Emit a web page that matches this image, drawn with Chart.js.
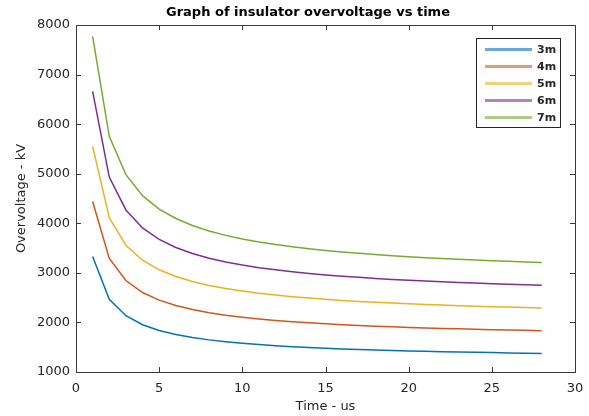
<!DOCTYPE html>
<html>
<head>
<meta charset="utf-8">
<script src="https://cdn.jsdelivr.net/npm/chart.js"></script>
<style>
  html, body { margin: 0; padding: 0; background: #fff; }
  #wrap { width: 589px; height: 416px; }
</style>
</head>
<body>
<div id="wrap"><canvas id="myChart" width="589" height="416"></canvas></div>
<script>
const times = [1, 2, 3, 4, 5, 6, 7, 8, 9, 10, 11, 12, 13, 14, 15, 16, 17, 18, 19, 20, 21, 22, 23, 24, 25, 26, 27, 28];

const v3m = [3330, 2467, 2135, 1953, 1837, 1756, 1695, 1648, 1610, 1579, 1553, 1530, 1511, 1494, 1479, 1466, 1454, 1444, 1434, 1425, 1417, 1410, 1403, 1397, 1391, 1385, 1380, 1375];
const v4m = [4440, 3289, 2846, 2604, 2449, 2341, 2260, 2197, 2146, 2105, 2070, 2040, 2015, 1992, 1972, 1955, 1939, 1925, 1912, 1900, 1890, 1880, 1870, 1862, 1854, 1847, 1840, 1833];
const v5m = [5550, 4111, 3558, 3255, 3062, 2926, 2825, 2747, 2683, 2632, 2588, 2551, 2519, 2491, 2466, 2444, 2424, 2406, 2390, 2376, 2362, 2350, 2338, 2328, 2318, 2309, 2300, 2292];
const v6m = [6660, 4933, 4269, 3906, 3674, 3511, 3390, 3296, 3220, 3158, 3105, 3061, 3022, 2989, 2959, 2933, 2909, 2887, 2868, 2851, 2834, 2819, 2806, 2793, 2781, 2770, 2759, 2750];
const v7m = [7770, 5755, 4981, 4557, 4286, 4096, 3955, 3845, 3756, 3684, 3623, 3571, 3526, 3487, 3452, 3421, 3394, 3368, 3346, 3326, 3307, 3289, 3273, 3259, 3245, 3232, 3219, 3208];

const seriesNames = ["3m", "4m", "5m", "6m", "7m"];
const seriesValues = [v3m, v4m, v5m, v6m, v7m];
const colors = ["#0072BD", "#D95319", "#EDB120", "#7E2F8E", "#77AC30"];

const TITLE = "Graph of insulator overvoltage vs time";
const FONT = "'DejaVu Sans', sans-serif";
const AXIS_COLOR = "#3a3a3a";

// box around the axes + ticks pointing inwards, like matlab
const boxPlugin = {
  id: "box",
  afterDatasetsDraw(chart) {
    const { ctx, chartArea: a, scales } = chart;
    ctx.save();
    ctx.strokeStyle = AXIS_COLOR;
    ctx.lineWidth = 1;
    ctx.strokeRect(a.left + 0.5, a.top + 0.5, a.right - a.left, a.bottom - a.top);
    const len = 5;
    ctx.beginPath();
    scales.x.ticks.forEach(t => {
      const px = Math.round(scales.x.getPixelForValue(t.value)) + 0.5;
      ctx.moveTo(px, a.bottom); ctx.lineTo(px, a.bottom - len);
      ctx.moveTo(px, a.top); ctx.lineTo(px, a.top + len);
    });
    scales.y.ticks.forEach(t => {
      const py = Math.round(scales.y.getPixelForValue(t.value)) + 0.5;
      ctx.moveTo(a.left, py); ctx.lineTo(a.left + len, py);
      ctx.moveTo(a.right, py); ctx.lineTo(a.right - len, py);
    });
    ctx.stroke();

    // title (sits a bit left of the plot centre in the original)
    ctx.fillStyle = "#000";
    ctx.font = "bold 13px " + FONT;
    ctx.textAlign = "center";
    ctx.textBaseline = "middle";
    ctx.fillText(TITLE, 308, 13);
    ctx.restore();
  }
};

// legend box in the top right corner of the plot
const legendBox = {
  id: "legendBox",
  afterDraw(chart) {
    const { ctx, chartArea: a } = chart;
    const w = 84, h = 89;
    const x = a.right - 15 - w, y = a.top + 13;
    ctx.save();
    ctx.fillStyle = "#fff";
    ctx.fillRect(x, y, w, h);
    ctx.strokeStyle = "#262626";
    ctx.lineWidth = 1;
    ctx.strokeRect(x + 0.5, y + 0.5, w, h);
    ctx.font = "bold 11px " + FONT;
    ctx.textBaseline = "middle";
    chart.data.datasets.forEach((ds, i) => {
      const ry = y + 11.5 + i * 17;
      ctx.strokeStyle = ds.borderColor;
      ctx.globalAlpha = 0.6;
      ctx.lineWidth = 3;
      ctx.beginPath();
      ctx.moveTo(x + 9, ry);
      ctx.lineTo(x + 56, ry);
      ctx.stroke();
      ctx.globalAlpha = 1;
      ctx.fillStyle = "#262626";
      ctx.fillText(ds.label, x + 61, ry + 0.5);
    });
    ctx.restore();
  }
};

new Chart(document.getElementById("myChart"), {
  type: "line",
  data: {
    datasets: seriesNames.map((name, i) => ({
      label: name,
      data: times.map((t, j) => ({ x: t, y: seriesValues[i][j] })),
      borderColor: colors[i],
      backgroundColor: colors[i],
      borderWidth: 1.5,
      pointRadius: 0,
      tension: 0,
      fill: false,
    })),
  },
  plugins: [boxPlugin, legendBox],
  options: {
    responsive: false,
    animation: false,
    layout: { padding: { top: 25, right: 14, left: 0, bottom: 0 } },
    plugins: {
      legend: { display: false },
      tooltip: { enabled: false },
      title: { display: false },
    },
    scales: {
      x: {
        type: "linear",
        min: 0,
        max: 30,
        afterFit(scale) {
          scale.height = 44;
          scale.paddingLeft = 0;
          scale.paddingRight = 0;
        },
        ticks: { stepSize: 5, color: "#262626", padding: 9, maxRotation: 0, font: { family: FONT, size: 13 } },
        grid: { display: true, drawOnChartArea: false, drawTicks: false },
        border: { display: false },
        title: {
          display: true,
          text: "Time - us",
          color: "#262626",
          font: { family: FONT, size: 13 },
          padding: { top: 0, bottom: 1.7 },
        },
      },
      y: {
        min: 1000,
        max: 8000,
        afterFit(scale) {
          scale.width = 76;
          scale.paddingTop = 0;
          scale.paddingBottom = 0;
        },
        ticks: {
          stepSize: 1000,
          color: "#262626",
          padding: 6,
          font: { family: FONT, size: 13 },
          callback: v => String(v),
        },
        grid: { display: true, drawOnChartArea: false, drawTicks: false },
        border: { display: false },
        title: {
          display: true,
          text: "Overvoltage - kV",
          color: "#262626",
          font: { family: FONT, size: 13 },
          padding: { top: 14, bottom: 0 },
        },
      },
    },
  },
});
</script>
</body>
</html>
